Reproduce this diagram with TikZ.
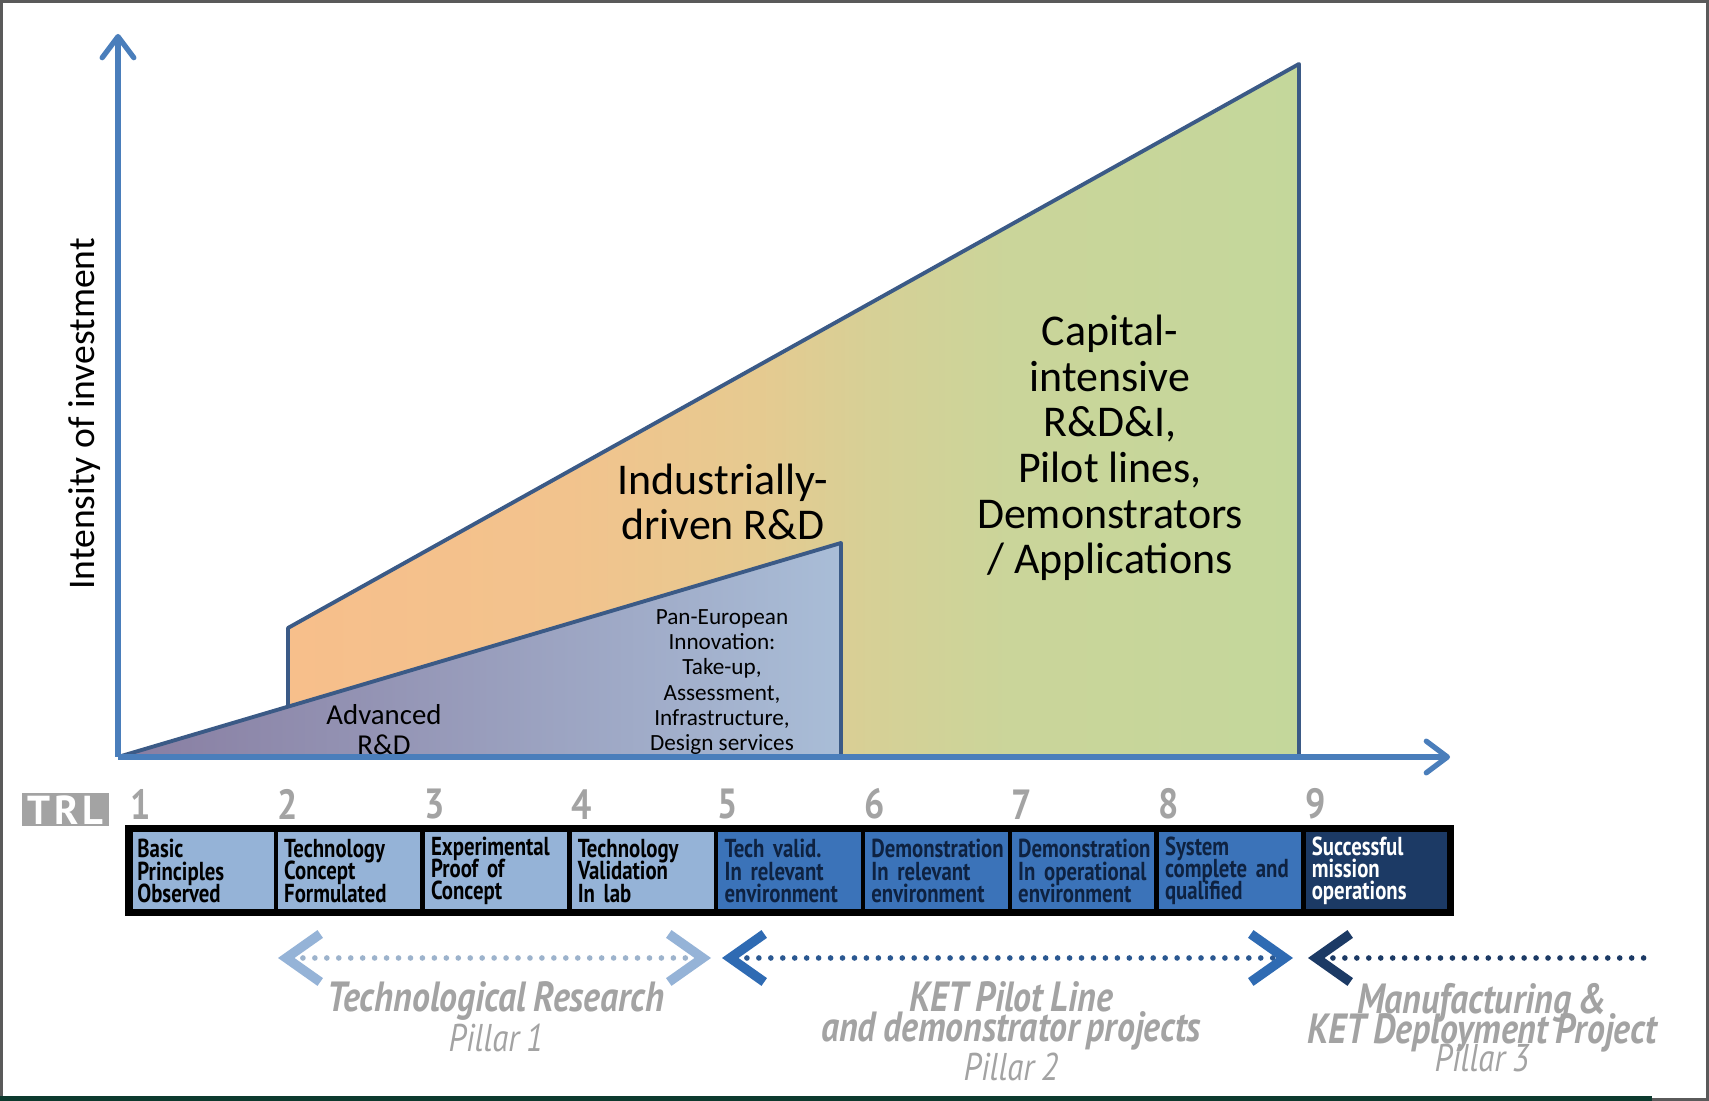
\documentclass[tikz,border=0pt]{standalone}
\usepackage{fontspec}
\setmainfont{Carlito}
\newfontfamily\condfont[FakeStretch=0.8, WordSpace=0.75]{PT Sans}
\newfontfamily\pillfont[FakeStretch=0.85, WordSpace=0.8]{PT Sans}
\newfontfamily\trlfont{PT Sans}
\usetikzlibrary{positioning, arrows.meta}

% tight lines in the TRL cells
\newcommand{\cellfont}{\condfont\bfseries\fontsize{7.4}{6.3}\selectfont\setlength{\lineskiplimit}{-6pt}}

\definecolor{axisblue}{HTML}{4A7EBB}
\definecolor{edgeblue}{HTML}{3B5A86}
\definecolor{orangefill}{HTML}{FABC8A}
\definecolor{tanfill}{HTML}{F2C38D}
\definecolor{midfill}{HTML}{E6CA90}
\definecolor{olivefill}{HTML}{D6D096}
\definecolor{lightgreen}{HTML}{CAD59A}
\definecolor{greenfill}{HTML}{C4D79B}
\definecolor{triliac}{HTML}{887DA1}
\definecolor{triblue}{HTML}{A9BDD7}
\definecolor{trllight}{HTML}{95B3D7}
\definecolor{trlmid}{HTML}{3B73B9}
\definecolor{trldark}{HTML}{1C3A65}
\definecolor{midtext}{HTML}{0E2241}
\definecolor{labelgray}{HTML}{A3A3A3}
\definecolor{dotsone}{HTML}{9DB3CC}
\definecolor{dotstwo}{HTML}{2B5891}
\definecolor{chevtwo}{HTML}{2F6BB3}
\definecolor{framegray}{HTML}{5A5A5A}
\definecolor{bottomgreen}{HTML}{0D3A2E}

% orange on the left, green from TRL 6 on
\pgfdeclarehorizontalshading{investshade}{100bp}{color(0bp)=(orangefill); color(25bp)=(orangefill);
    color(44bp)=(tanfill); color(52bp)=(midfill); color(57bp)=(olivefill); color(63bp)=(lightgreen);
    color(75bp)=(greenfill); color(100bp)=(greenfill)}

\tikzset{
    ChevLight/.tip={Straight Barb[length=3.4mm, width=4.8mm, line width=2.7pt, color=trllight]},
    ChevMid/.tip={Straight Barb[length=3.4mm, width=4.8mm, line width=2.7pt, color=chevtwo]},
    ChevDark/.tip={Straight Barb[length=3.4mm, width=4.8mm, line width=2.7pt, color=trldark]}
}

\begin{document}
\begin{tikzpicture}[
        node distance=0pt,
        every node/.style={inner sep=0pt},
        axis/.style={axisblue, line width=1.5pt, -{Straight Barb[length=6pt, width=9pt, round]}},
        edge/.style={edgeblue, line width=1.1pt, line join=round},
        trlcell/.style={rectangle, draw=black, line width=1.3pt, outer sep=0pt, minimum width=1.468cm,
            minimum height=0.84cm, text width=1.30cm, align=left, font=\cellfont},
        trlnum/.style={anchor=south west, text=labelgray, font=\pillfont\bfseries\fontsize{12}{12}\selectfont},
        dots/.style={line width=1.6pt, dash pattern=on 0pt off 3.4pt, line cap=round},
        pillar/.style={anchor=base, text=labelgray, font=\pillfont\bfseries\itshape\fontsize{12}{12}\selectfont},
        pillsub/.style={anchor=base, text=labelgray, font=\pillfont\itshape\fontsize{11}{11}\selectfont}
    ]
    \useasboundingbox (0,0) rectangle (17.09,11.01);
    \fill[white] (0,0) rectangle (17.09,11.01);

    % Frame of the slide
    \draw[framegray, line width=0.8pt] (0.014,0.014) rectangle (17.076,10.996);
    \draw[bottomgreen, line width=1.4pt] (0,0.025) -- (16.52,0.025);

    % Corner points of the investment areas
    \coordinate (o) at (1.18,3.44);
    \coordinate (b) at (2.88,3.943);
    \coordinate (c) at (2.88,4.73);
    \coordinate (d) at (12.99,10.37);
    \coordinate (e) at (12.99,3.44);
    \coordinate (p) at (8.41,5.58);
    \coordinate (q) at (8.41,3.44);
    \coordinate (ytop) at (1.18,10.67);
    \coordinate (xend) at (14.50,3.44);

    % Industrial and capital-intensive area
    \shade[shading=investshade] (o) -- (b) -- (c) -- (d) -- (e) -- cycle;
    \draw[edge] (b) -- (c) -- (d) -- (e);

    % Advanced R&D area
    \shade[left color=triliac, right color=triblue] (o) -- (p) -- (q) -- cycle;
    \draw[edge] (o) -- (p) -- (q);

    % Axes
    \draw[axis] (o) -- (ytop);
    \draw[axis] (o) -- (xend);
    \node[rotate=90, font=\fontsize{10.7}{12}\selectfont] (ylabel) at (0.85,6.87) {Intensity of investment};

    % Area labels
    \node[align=center, font=\fontsize{12.5}{12.8}\selectfont] (industry) at (7.23,5.99) {Industrially-\\driven R\&D};
    \node[align=center, font=\fontsize{12.5}{13}\selectfont] (capital) at (11.10,6.53)
        {Capital-\\intensive\\R\&D\&I,\\Pilot lines,\\Demonstrators\\/ Applications};
    \node[align=center, font=\fontsize{8.2}{8.4}\selectfont] (advanced) at (3.84,3.715) {Advanced\\R\&D};
    \node[align=center, font=\fontsize{6.6}{7.2}\selectfont] (paneu) at (7.22,4.19)
        {Pan-European\\Innovation:\\Take-up,\\Assessment,\\Infrastructure,\\Design services};

    % TRL scale
    \node[fill=labelgray, minimum width=0.87cm, minimum height=0.33cm, text=white,
        font=\trlfont\bfseries\fontsize{11.5}{11.5}\selectfont] (trl) at (0.655,2.91) {T\kern1.2pt R\kern1.2pt L};
    \node[trlcell, fill=trllight, anchor=west] (trl1) at (1.29,2.30) {Basic\\Principles\\Observed};
    \node[trlcell, fill=trllight, right=of trl1] (trl2) {Technology\\Concept\\Formulated};
    \node[trlcell, fill=trllight, right=of trl2] (trl3) {Experimental\\Proof of\\Concept};
    \node[trlcell, fill=trllight, right=of trl3] (trl4) {Technology\\Validation\\In lab};
    \node[trlcell, fill=trlmid, text=midtext, right=of trl4] (trl5) {Tech valid.\\In relevant\\environment};
    \node[trlcell, fill=trlmid, text=midtext, right=of trl5] (trl6) {Demonstration\\In relevant\\environment};
    \node[trlcell, fill=trlmid, text=midtext, right=of trl6] (trl7) {Demonstration\\In operational\\environment};
    \node[trlcell, fill=trlmid, text=midtext, right=of trl7] (trl8) {System\\complete and\\qualified};
    \node[trlcell, fill=trldark, text=white, right=of trl8] (trl9) {Successful\\mission\\operations};
    \draw[black, line width=2pt] (trl1.north west) rectangle (trl9.south east);

    % TRL numbers
    \node[trlnum] (n1) at ([shift={(0.01,0.09)}]trl1.north west) {1};
    \node[trlnum] (n2) at ([shift={(0.01,0.09)}]trl2.north west) {2};
    \node[trlnum] (n3) at ([shift={(0.01,0.09)}]trl3.north west) {3};
    \node[trlnum] (n4) at ([shift={(0.01,0.09)}]trl4.north west) {4};
    \node[trlnum] (n5) at ([shift={(0.01,0.09)}]trl5.north west) {5};
    \node[trlnum] (n6) at ([shift={(0.01,0.09)}]trl6.north west) {6};
    \node[trlnum] (n7) at ([shift={(0.01,0.09)}]trl7.north west) {7};
    \node[trlnum] (n8) at ([shift={(0.01,0.09)}]trl8.north west) {8};
    \node[trlnum] (n9) at ([shift={(0.01,0.09)}]trl9.north west) {9};

    % Pillar ranges
    \coordinate (p1l) at (2.78,1.43);
    \coordinate (p1r) at (7.11,1.43);
    \coordinate (p2l) at (7.22,1.43);
    \coordinate (p2r) at (12.93,1.43);
    \coordinate (p3l) at (13.08,1.43);
    \coordinate (p3r) at (16.51,1.43);
    \draw[dots, dotsone, ChevLight-ChevLight] (p1l) -- (p1r);
    \draw[dots, dotstwo, ChevMid-ChevMid] (p2l) -- (p2r);
    \draw[dots, trldark, ChevDark-] (p3l) -- (p3r);

    \node[pillar] (research) at (4.96,0.895) {Technological Research};
    \node[pillsub] (pillar1) at (4.96,0.495) {Pillar 1};
    \node[pillar] (pilotline) at (10.11,0.89) {KET Pilot Line};
    \node[pillar] (demoproj) at (10.11,0.59) {and demonstrator projects};
    \node[pillsub] (pillar2) at (10.11,0.20) {Pillar 2};
    \node[pillar] (manuf) at (14.82,0.875) {Manufacturing \&};
    \node[pillar] (deploy) at (14.82,0.575) {KET Deployment Project};
    \node[pillsub] (pillar3) at (14.82,0.29) {Pillar 3};
\end{tikzpicture}
\end{document}
